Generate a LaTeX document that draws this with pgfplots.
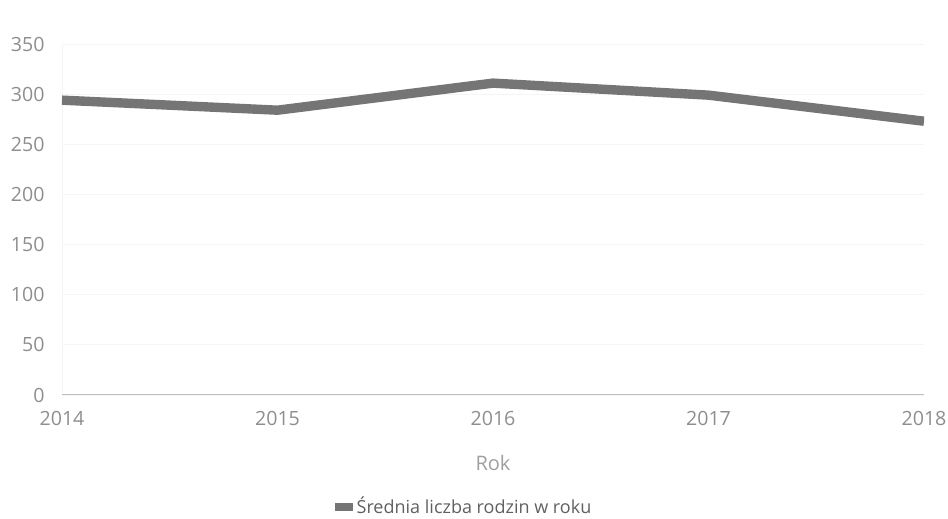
\documentclass[border=0pt]{standalone}
\usepackage{fontspec}
\setmainfont{Open Sans}
\usepackage{pgfplots}
\pgfplotsset{compat=1.18}
\definecolor{txt}{HTML}{8E8E8E}
\definecolor{legtxt}{HTML}{606060}
\definecolor{ln}{HTML}{757575}
\begin{document}
\begin{tikzpicture}
\useasboundingbox (-31pt,-62pt) rectangle (443pt,197.5pt);
\begin{axis}[
  scale only axis, width=431pt, height=175.5pt,
  at={(0,0)}, anchor=south west,
  xmin=2014, xmax=2018, ymin=0, ymax=350,
  xtick={2014,2015,2016,2017,2018},
  ytick={0,50,100,150,200,250,300,350},
  /pgf/number format/assume math mode=true,
  x tick label style={/pgf/number format/1000 sep={}, font=\fontsize{9.8}{11}\selectfont, text=txt, yshift=-4.7pt},
  y tick label style={font=\fontsize{9.8}{11}\selectfont, text=txt, xshift=-5.2pt},
  major tick length=0pt,
  axis line style={draw=none},
  ymajorgrids, major grid style={draw=gray!8, line width=0.4pt},
  xlabel={Rok},
  xlabel style={at={(axis description cs:0.5,0)}, anchor=center, yshift=-34pt, font=\fontsize{10}{12}\selectfont, text=txt!85},
  legend style={at={(axis description cs:0.4675,0)}, anchor=center, yshift=-56pt, draw=none, fill=none, font=\fontsize{9}{11}\selectfont, text=legtxt, inner sep=0pt},
  legend cell align=left,
  legend image code/.code={\path[fill=ln, draw=none, line width=0pt] (0pt,-2pt) rectangle (9pt,2pt);},
]
\draw[gray!8, line width=0.6pt] (rel axis cs:0,0) -- (rel axis cs:0,1);
\draw[gray!50, line width=0.6pt] (rel axis cs:0,0) -- (rel axis cs:1,0);
\addplot[ln, line width=4.7pt, line join=round] coordinates {
  (2014,294) (2015,284) (2016,311) (2017,299) (2018,273)
};
\addlegendentry{Średnia liczba rodzin w roku}
\end{axis}
\end{tikzpicture}
\end{document}
